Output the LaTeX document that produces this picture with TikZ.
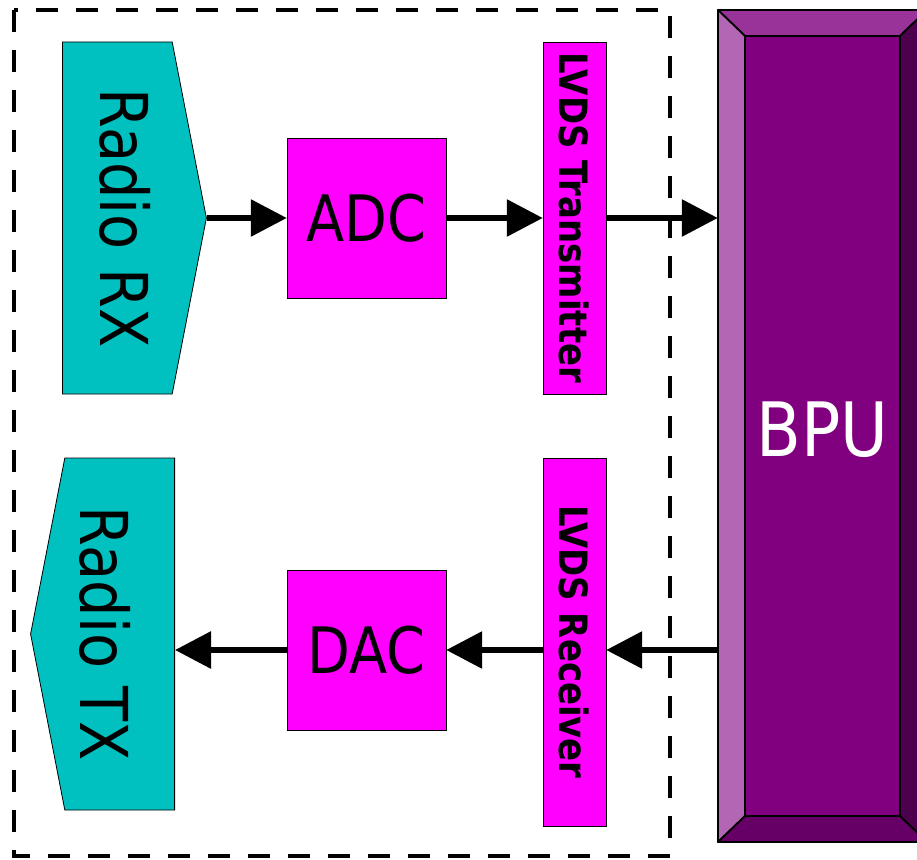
\documentclass[tikz,border=0pt]{standalone}
\usepackage{fontspec}
\setmainfont{DejaVu Sans}[FakeStretch=0.87]
\usetikzlibrary{arrows.meta,shapes.symbols}
\definecolor{radiocol}{HTML}{00C0C0}
\definecolor{convcol}{HTML}{FF00FF}
\definecolor{bpufront}{HTML}{800080}
\definecolor{bputop}{HTML}{993399}
\definecolor{bpuleft}{HTML}{B366B3}
\definecolor{bpuright}{HTML}{4D004D}
\definecolor{bpubottom}{HTML}{660066}

\begin{document}
\begin{tikzpicture}[x=1pt, y=-1pt,
  radiobox/.style={signal, draw, thick, fill=radiocol, inner sep=0pt,
    minimum width=144pt, minimum height=352pt, signal pointer angle=158},
  radiotext/.style={rotate=-90, inner sep=0pt, font=\fontsize{66}{66}\selectfont},
  convbox/.style={draw, fill=convcol, inner sep=0pt, minimum width=159pt,
    minimum height=160pt, font=\fontsize{64}{64}\selectfont},
  lvdsbox/.style={draw, fill=convcol, inner sep=0pt, minimum width=63pt,
    font=\fontsize{39}{39}\selectfont\bfseries},
  sigarrow/.style={line width=6pt, -{Triangle[length=36pt, width=36pt]}},
  bevel/.style={draw=black, line width=1.8pt, line join=round}]

\clip (0,0) rectangle (917,859);

% === FRONT END (dashed frame) ===
\draw[line width=4.5pt, dash pattern=on 22pt off 18pt] (14,10) rectangle (670,856);

\node[radiobox, signal to=east, anchor=west] (radiorx) at (62,218) {};
\node[radiotext] (rxtext) at (125,218) {Radio RX};
\node[convbox] (adc) at (366.5,218) {ADC};
\node[lvdsbox, minimum height=352pt] (lvdstx) at (574.5,218)
  {\rotatebox{-90}{LVDS Transmitter}};

\node[radiobox, signal to=west, anchor=east] (radiotx) at (175,634) {};
\node[radiotext] (txtext) at (105,634) {Radio TX};
\node[convbox] (dac) at (366.5,650) {DAC};
\node[lvdsbox, minimum height=368pt] (lvdsrx) at (574.5,642)
  {\rotatebox{-90}{LVDS Receiver}};

% === BPU (bevelled block) ===
\fill[bputop, bevel] (718,10) -- (927,10) -- (900,36) -- (745,36) -- cycle;
\fill[bpuleft, bevel] (718,10) -- (745,36) -- (745,816) -- (718,842) -- cycle;
\fill[bpuright, bevel] (927,10) -- (927,842) -- (900,816) -- (900,36) -- cycle;
\fill[bpubottom, bevel] (718,842) -- (745,816) -- (900,816) -- (927,842) -- cycle;
\fill[bpufront, bevel] (745,36) rectangle (900,816);
\node[minimum width=209pt, minimum height=832pt, inner sep=0pt, text=white,
  font=\fontsize{75}{75}\selectfont] (bpu) at (822.5,430) {BPU};

% === SIGNAL PATHS ===
\draw[sigarrow] (radiorx.east) -- (adc.west);
\draw[sigarrow] (adc.east) -- (lvdstx.west);
\draw[sigarrow] (lvdstx.east) -- (lvdstx.east -| bpu.west);
\draw[sigarrow] (dac.east -| bpu.west) -- (dac.east -| lvdsrx.east);
\draw[sigarrow] (dac.east -| lvdsrx.west) -- (dac.east);
\draw[sigarrow] (dac.west) -- (dac.west -| radiotx.east);

\end{tikzpicture}
\end{document}
